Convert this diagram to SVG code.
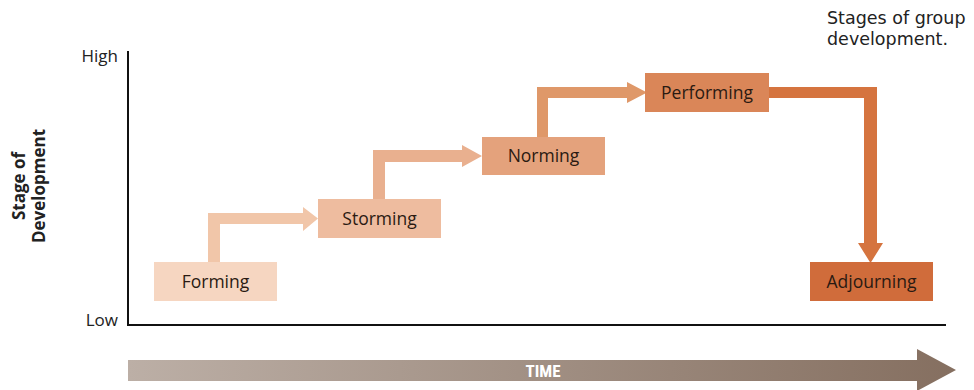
<svg xmlns="http://www.w3.org/2000/svg" width="974" height="390" viewBox="0 0 974 390">
<defs>
<linearGradient id="timeGrad" x1="0" y1="0" x2="1" y2="0">
<stop offset="0" stop-color="#bcafa6"/>
<stop offset="1" stop-color="#856f60"/>
</linearGradient>
</defs>
<style>
.lbl{font-family:"Open Sans","Noto Sans",sans-serif;font-size:17.5px;fill:#2a1a12;text-anchor:middle}
.ax{font-family:"Open Sans","Noto Sans",sans-serif;font-size:17px;fill:#222}
.cap{font-family:"DejaVu Sans",sans-serif;font-size:17.5px;fill:#222}
.axis{stroke:#111;stroke-width:2;fill:none}
.yl{font-family:"Open Sans","Noto Sans",sans-serif;font-size:17px;font-weight:bold;fill:#222;text-anchor:middle}
</style>
<rect width="974" height="390" fill="#ffffff"/>
<g id="caption">
<text class="cap" x="827" y="24">Stages of group</text>
<text class="cap" x="827" y="45">development.</text>
</g>
<g id="axes">
<path class="axis" d="M128 51 V325 H946"/>
<text class="ax" x="118" y="62" text-anchor="end">High</text>
<text class="ax" x="118" y="326" text-anchor="end">Low</text>
<text class="yl" transform="translate(25,186) rotate(-90)">Stage of</text>
<text class="yl" transform="translate(45,186) rotate(-90)">Development</text>
</g>
<g id="time">
<polygon points="128,360 917,360 917,349 956,370 917,391 917,381 128,381" fill="url(#timeGrad)"/>
<text x="543" y="377" font-family="'Liberation Sans Narrow','Roboto Condensed','Open Sans',sans-serif" font-size="17" font-weight="bold" fill="#ffffff" text-anchor="middle">TIME</text>
</g>
<g id="connectors">
<polygon points="208,262 208,213 303,213 303,207 318,218.5 303,231 303,224 220,224 220,262" fill="#f1c6a9"/>
<polygon points="373,199 373,150 462,150 462,145 482,156 462,167 462,162 385,162 385,199" fill="#e9b08f"/>
<polygon points="537,137 537,87 627,87 627,82 647,92.5 627,103 627,98 548,98 548,137" fill="#df9869"/>
<polygon points="769,87 877,87 877,243 883,243 870.5,263 858,243 864,243 864,98 769,98" fill="#d5743f"/>
</g>
<g id="forming">
<rect x="154" y="262" width="123" height="39" fill="#f6d6c1"/>
<text class="lbl" x="215.5" y="288">Forming</text>
</g>
<g id="storming">
<rect x="318" y="199" width="123" height="39" fill="#eebc9f"/>
<text class="lbl" x="379.5" y="225">Storming</text>
</g>
<g id="norming">
<rect x="482" y="137" width="123" height="38" fill="#e4a27c"/>
<text class="lbl" x="543.5" y="162">Norming</text>
</g>
<g id="performing">
<rect x="645" y="73" width="124" height="39" fill="#da8658"/>
<text class="lbl" x="707" y="99">Performing</text>
</g>
<g id="adjourning">
<rect x="810" y="262" width="123" height="39" fill="#d06c3b"/>
<text class="lbl" x="871.5" y="288">Adjourning</text>
</g>
</svg>
